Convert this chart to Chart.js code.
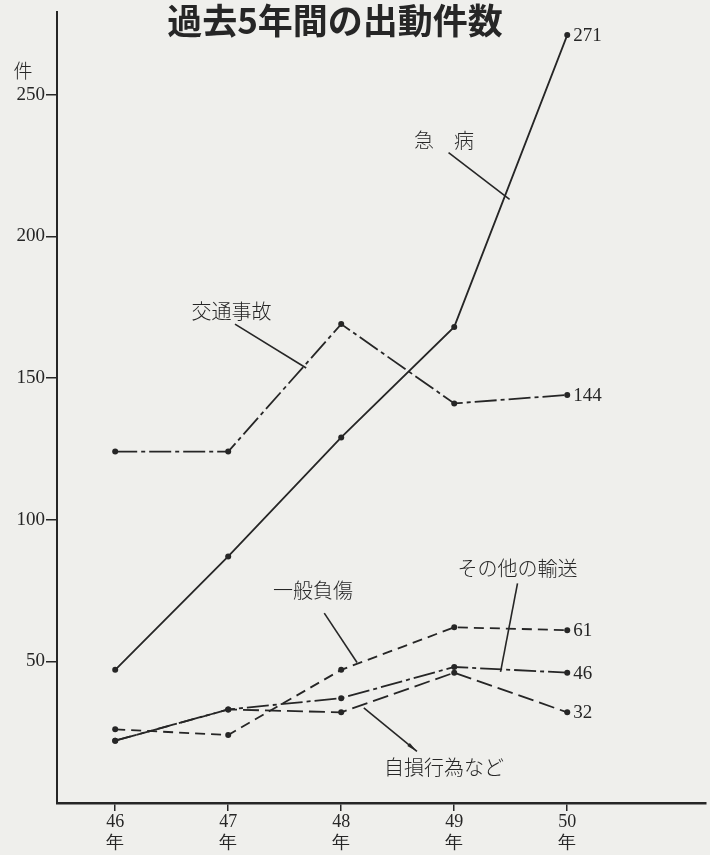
<!DOCTYPE html>
<html>
<head>
<meta charset="utf-8">
<script src="https://cdn.jsdelivr.net/npm/chart.js@4"></script>
<style>
  html, body { margin: 0; padding: 0; background: #efefec; }
  #wrap { width: 710px; height: 855px; }
</style>
</head>
<body>
<div id="wrap"><canvas id="chart" width="710" height="855"></canvas></div>
<script>
// 年 (昭和)
const years = [46, 47, 48, 49, 50];
const yTicks = [50, 100, 150, 200, 250];

// 出動件数
const kyubyo = [47, 87, 129, 168, 271];   // 急病
const kotsu = [124, 124, 169, 141, 144];  // 交通事故
const ippan = [26, 24, 47, 62, 61];       // 一般負傷
const sonota = [22, 33, 37, 48, 46];      // その他の輸送
const jison = [22, 33, 32, 46, 32];       // 自損行為など

const seriesNames = ['急病', '交通事故', '一般負傷', 'その他の輸送', '自損行為など'];
const seriesData = [kyubyo, kotsu, ippan, sonota, jison];
const seriesDash = [[], [22, 4, 4, 4], [10, 6], [22, 4, 4, 4], [16, 6]];

// labels with leader lines, in data units
const notes = [
  { text: '急　病', at: [48.91, 234], from: [48.95, 229.5], to: [49.49, 213] },
  { text: '交通事故', at: [47.03, 173.6], from: [47.06, 169], to: [47.69, 153.5] },
  { text: '一般負傷', at: [47.75, 75], from: [47.85, 67], to: [48.14, 49.6] },
  { text: 'その他の輸送', at: [49.56, 82.7], from: [49.56, 77.5], to: [49.41, 46.3] },
  { text: '自損行為など', at: [48.91, 12.7], from: [48.2, 33.6], to: [48.67, 18.2], arrow: true }
];

const ink = '#262626';
const serif = '"Liberation Serif", "DejaVu Serif", serif';
const jp = '"Noto Sans CJK JP", sans-serif';

const notesPlugin = {
  id: 'notes',
  afterDatasetsDraw(chart) {
    const { ctx, scales } = chart;
    const px = v => scales.x.getPixelForValue(v);
    const py = v => scales.y.getPixelForValue(v);
    ctx.save();
    ctx.strokeStyle = ink;
    ctx.fillStyle = ink;
    ctx.lineWidth = 1.6;
    ctx.font = '300 20px ' + jp;
    ctx.textAlign = 'center';
    ctx.textBaseline = 'middle';
    notes.forEach(n => {
      ctx.fillText(n.text, px(n.at[0]), py(n.at[1]));
      ctx.beginPath();
      ctx.moveTo(px(n.from[0]), py(n.from[1]));
      ctx.lineTo(px(n.to[0]), py(n.to[1]));
      ctx.stroke();
      if (n.arrow) {
        const x2 = px(n.to[0]), y2 = py(n.to[1]);
        const x1 = px(n.from[0]), y1 = py(n.from[1]);
        const a = Math.atan2(y2 - y1, x2 - x1);
        ctx.beginPath();
        ctx.moveTo(x2, y2);
        ctx.lineTo(x2 - 11 * Math.cos(a - 0.18), y2 - 11 * Math.sin(a - 0.18));
        ctx.lineTo(x2 - 11 * Math.cos(a + 0.18), y2 - 11 * Math.sin(a + 0.18));
        ctx.closePath();
        ctx.fill();
      }
    });
    // value at the last year
    ctx.font = '19px ' + serif;
    ctx.textAlign = 'left';
    chart.data.datasets.forEach((ds, i) => {
      const pt = chart.getDatasetMeta(i).data[years.length - 1];
      ctx.fillText(String(ds.data[years.length - 1].y), pt.x + 6, pt.y + 1);
    });
    // unit and title
    ctx.font = '300 19px ' + jp;
    ctx.textAlign = 'center';
    ctx.fillText('件', 23, 71);
    ctx.font = 'bold 35px ' + jp;
    ctx.fillText('過去5年間の出動件数', 335, 21);
    ctx.restore();
  }
};

new Chart(document.getElementById('chart'), {
  type: 'line',
  data: {
    datasets: seriesNames.map((name, i) => ({
      label: name,
      data: years.map((y, j) => ({ x: y, y: seriesData[i][j] })),
      borderColor: ink,
      borderWidth: 1.8,
      borderDash: seriesDash[i],
      pointRadius: 3,
      pointBackgroundColor: ink,
      pointBorderWidth: 0,
      tension: 0
    }))
  },
  options: {
    responsive: false,
    animation: false,
    layout: { padding: { top: 6, right: 0, left: 0, bottom: 0 } },
    plugins: { legend: { display: false }, tooltip: { enabled: false } },
    scales: {
      x: {
        type: 'linear',
        min: 45.485,
        max: 51.228,
        afterBuildTicks: axis => { axis.ticks = years.map(v => ({ value: v })); },
        afterFit: axis => { axis.height = 52; },
        ticks: {
          callback: v => [String(v), '年'],
          font: { family: serif, size: 18, lineHeight: 1.2 },
          color: ink,
          padding: 0,
          maxRotation: 0
        },
        grid: { drawOnChartArea: false, tickLength: 8, color: ink, lineWidth: 1.5 },
        border: { color: ink, width: 2.5 }
      },
      y: {
        min: 0,
        max: 279,
        afterBuildTicks: axis => { axis.ticks = yTicks.map(v => ({ value: v })); },
        afterFit: axis => { axis.width = 57; },
        ticks: { font: { family: serif, size: 19 }, color: ink, padding: 1 },
        grid: { drawOnChartArea: false, tickLength: 11, color: ink, lineWidth: 1.5 },
        border: { color: ink, width: 2 }
      }
    }
  },
  plugins: [notesPlugin]
});
</script>
</body>
</html>
